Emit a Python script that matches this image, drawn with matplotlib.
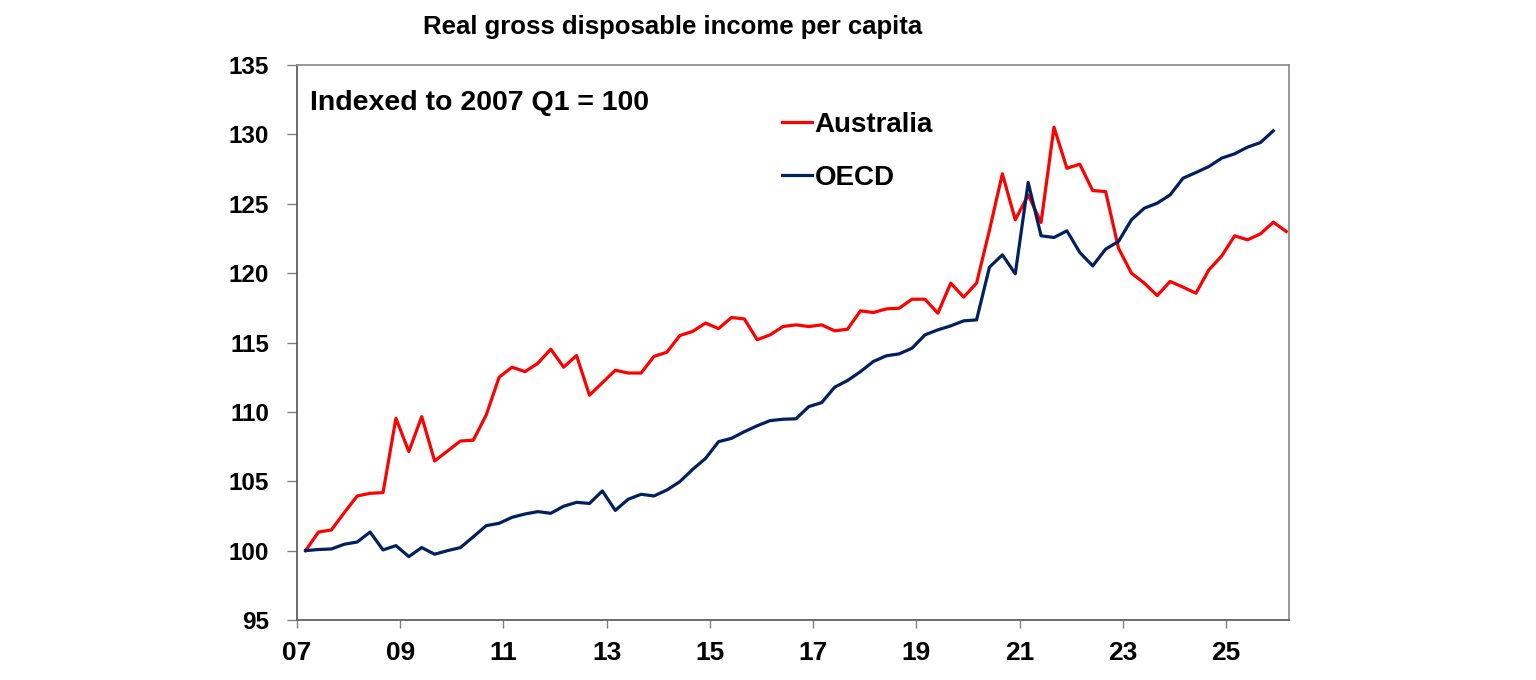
import numpy as np
import pandas as pd
import matplotlib
matplotlib.use("Agg")
from matplotlib import pyplot as plt

plt.rcParams['font.family'] = ['Liberation Sans', 'DejaVu Sans']
plt.rcParams['font.weight'] = 'bold'

# quarterly index, 2007 Q1 = 100
australia = [100.0, 101.34, 101.49, 102.74, 103.94, 104.13, 104.18, 109.54, 107.14, 109.66,
             106.46, 107.18, 107.9, 107.96, 109.78, 112.5, 113.22, 112.9, 113.5, 114.52,
             113.22, 114.06, 111.2, 112.1, 113.0, 112.8, 112.8, 114.0, 114.3, 115.5,
             115.8, 116.4, 116.0, 116.8, 116.7, 115.2, 115.55, 116.15, 116.27, 116.15,
             116.27, 115.84, 115.96, 117.28, 117.16, 117.42, 117.47, 118.12, 118.12, 117.11,
             119.28, 118.27, 119.28, 123.1, 127.16, 123.84, 125.64, 123.65, 130.52, 127.56,
             127.85, 125.95, 125.88, 121.8, 120.0, 119.28, 118.38, 119.4, 118.99, 118.55,
             120.23, 121.24, 122.69, 122.4, 122.83, 123.67, 123.0]
oecd = [100.0, 100.08, 100.12, 100.46, 100.62, 101.34, 100.05, 100.36, 99.57, 100.22,
        99.74, 100.0, 100.22, 101.0, 101.8, 101.97, 102.4, 102.64, 102.81, 102.69,
        103.2, 103.48, 103.4, 104.3, 102.9, 103.7, 104.06, 103.94, 104.37, 104.97,
        105.86, 106.65, 107.85, 108.09, 108.57, 109.0, 109.37, 109.47, 109.5, 110.38,
        110.67, 111.78, 112.26, 112.9, 113.63, 114.04, 114.18, 114.59, 115.55, 115.91,
        116.2, 116.56, 116.63, 120.43, 121.32, 119.95, 126.53, 122.69, 122.57, 123.05,
        121.49, 120.52, 121.73, 122.28, 123.84, 124.68, 125.04, 125.64, 126.84, 127.25,
        127.68, 128.29, 128.6, 129.08, 129.41, 130.26]

year_ticks = [2007, 2009, 2011, 2013, 2015, 2017, 2019, 2021, 2023, 2025]
year_labels = ['07', '09', '11', '13', '15', '17', '19', '21', '23', '25']
y_ticks = [95, 100, 105, 110, 115, 120, 125, 130, 135]

# quarters -> decimal year (plotted at start of last month of quarter)
q_aus = pd.period_range('2007Q1', periods=len(australia), freq='Q')
q_oecd = pd.period_range('2007Q1', periods=len(oecd), freq='Q')
x_aus = q_aus.year + (q_aus.quarter * 3 - 1) / 12
x_oecd = q_oecd.year + (q_oecd.quarter * 3 - 1) / 12

W, H = 1536, 680
fig = plt.figure(figsize=(W / 100, H / 100), dpi=100)
ax = fig.add_axes([297 / W, 1 - 620 / H, (1289 - 297) / W, (620 - 65) / H])

ax.plot(x_aus, australia, color='#FF0000', lw=2.3, label='Australia')
ax.plot(x_oecd, oecd, color='#002060', lw=2.3, label='OECD')

ax.set_xlim(2007.0, 2026.22)
ax.set_ylim(95, 135)
ax.set_xticks(year_ticks)
ax.set_xticklabels(year_labels)
ax.set_yticks(y_ticks)
ax.tick_params(axis='y', direction='out', length=7, width=1, color='#808080',
               labelsize=17.5, pad=13)
ax.tick_params(axis='x', direction='out', length=6, width=1, color='#808080',
               labelsize=19, pad=9)
for lab in ax.get_xticklabels() + ax.get_yticklabels():
    lab.set_fontweight('bold')

for s in ax.spines.values():
    s.set_color('#909090')
    s.set_linewidth(1.3)
ax.spines['left'].set_color('#606060')
ax.spines['bottom'].set_color('#606060')

fig.text(673 / W, 1 - 34 / H, 'Real gross disposable income per capita',
         ha='center', va='baseline', fontsize=18.5, fontweight='bold')
fig.text(310 / W, 1 - 110 / H, 'Indexed to 2007 Q1 = 100',
         ha='left', va='baseline', fontsize=20.5, fontweight='bold')

leg = ax.legend(loc='upper left', bbox_to_anchor=(782 / W, 1 - 112 / H),
                bbox_transform=fig.transFigure, frameon=False, fontsize=20,
                handlelength=1.08, handletextpad=0.1, labelspacing=0.97,
                borderpad=0, borderaxespad=0)
for t in leg.get_texts():
    t.set_fontweight('bold')

fig.savefig('out.png', dpi=100)
